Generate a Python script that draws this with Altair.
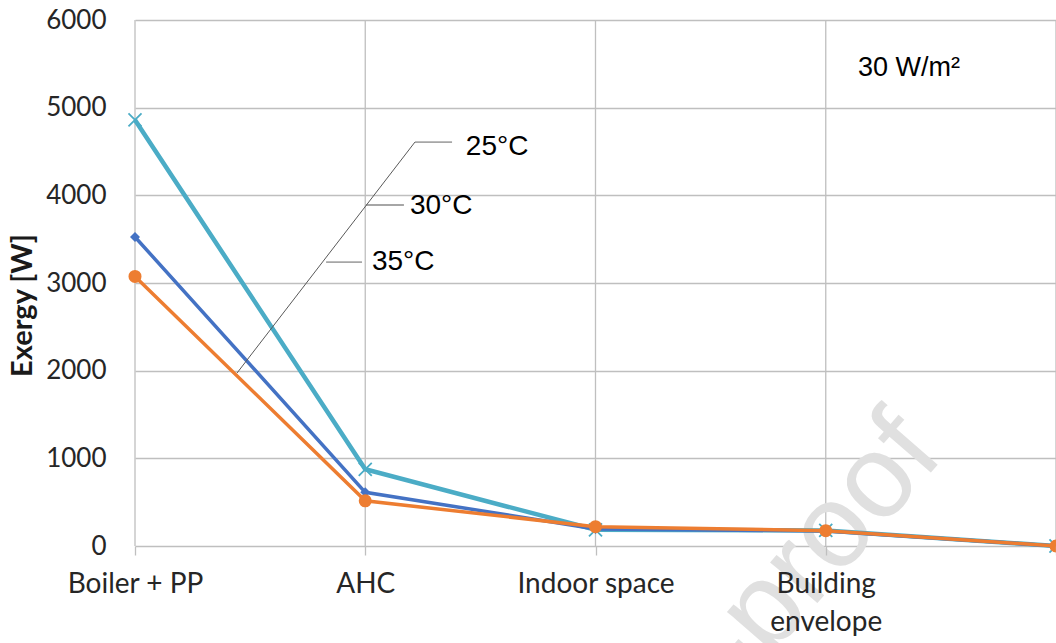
import json
import altair as alt
import pandas as pd

# Stages of the exergy flow chain (index = position on the x axis)
stages = ["Boiler + PP", "AHC", "Indoor space", "Building envelope", ""]
stage_lines = [["Boiler + PP"], ["AHC"], ["Indoor space"], ["Building", "envelope"], [""]]
stage_index = [0, 1, 2, 3, 4]

# Exergy [W] at each stage for three supply temperatures
exergy_25 = [4860, 875, 185, 178, 0]
exergy_30 = [3525, 612, 195, 172, 0]
exergy_35 = [3075, 515, 220, 175, 0]

series_names = ["25°C", "30°C", "35°C"]
series_colors = ["#4BACC6", "#4472C4", "#ED7D31"]

# Leader lines of the series labels (x in stage index units, y in W)
leader_x = [1.216, 1.216, 1.003, 0.830]
leader_x2 = [1.377, 0.443, 1.168, 0.986]
leader_y = [4608, 4608, 3890, 3239]
leader_y2 = [4608, 1973, 3890, 3239]
leader_kind = ["h", "d", "h", "h"]

label_x = [1.437, 1.194, 1.029]
label_y = [4551, 3878, 3239]

rows = []
for name, vals in zip(series_names, [exergy_25, exergy_30, exergy_35]):
    for i, v in zip(stage_index, vals):
        rows.append({"stage": i, "exergy": v, "series": name})
df = pd.DataFrame(rows)

leaders = pd.DataFrame({"x": leader_x, "x2": leader_x2, "y": leader_y,
                        "y2": leader_y2, "kind": leader_kind})
labels = pd.DataFrame({"x": label_x, "y": label_y, "text": series_names})

label_expr = json.dumps(stage_lines) + "[datum.value]"

x_scale = alt.Scale(domain=[0, 4], nice=False, zero=False)
y_scale = alt.Scale(domain=[0, 6000], nice=False)

x_enc = alt.X("stage:Q", scale=x_scale,
              axis=alt.Axis(values=stage_index, labelExpr=label_expr, title=None,
                            grid=False, zindex=1,
                            ticks=True, tickColor="#BFBFBF", tickWidth=1.3, tickSize=9,
                            domain=False, labelFont="Lato", labelFontSize=28,
                            labelColor="#262626", labelPadding=15, labelLineHeight=38,
                            labelBaseline="top", labelFlush=False, labelOverlap=False))
y_enc = alt.Y("exergy:Q", scale=y_scale,
              axis=alt.Axis(values=[0, 1000, 2000, 3000, 4000, 5000, 6000], format="d",
                            title="Exergy [W]", titleFont="Lato", titleFontSize=29,
                            titleFontWeight="bold", titleColor="#1a1a1a",
                            titleX=-113, titleY=285, titleAlign="center",
                            titleBaseline="middle", titleAngle=270,
                            grid=True, gridColor="#BFBFBF", gridWidth=1.3,
                            ticks=False, domain=False, labelFont="Lato",
                            labelFontSize=26, labelColor="#262626", labelPadding=29))

base = alt.Chart(df)

# Vertical gridlines at each stage
vgrid = alt.Chart(pd.DataFrame({"stage": stage_index})).mark_rule(
    color="#BFBFBF", strokeWidth=1.3
).encode(x=alt.X("stage:Q", scale=x_scale), y=alt.value(0), y2=alt.value(526))

# Faint watermark beneath the data
watermark = alt.Chart(pd.DataFrame({"x": [3.52], "y": [1030], "t": ["Journal Pre-proof"]})).mark_text(
    font="Liberation Sans", fontSize=118, color="#E0E0E0", align="right",
    baseline="alphabetic", angle=311
).encode(x=alt.X("x:Q", scale=x_scale), y=alt.Y("y:Q", scale=y_scale), text="t:N")

layers = [vgrid, watermark]
shapes = ["M-1,-1L1,1M-1,1L1,-1", "diamond", "circle"]
sizes = [170, 100, 170]
widths = [4.5, 3.5, 3.5]
for name, color, shape, size, w in zip(series_names, series_colors, shapes, sizes, widths):
    sub = base.transform_filter(alt.datum.series == name)
    line = sub.mark_line(color=color, strokeWidth=w).encode(x=x_enc, y=y_enc)
    if shape.startswith("M"):
        pts = sub.mark_point(shape=shape, color=color, filled=False, strokeWidth=1.8,
                             size=size, opacity=1).encode(x=x_enc, y=y_enc)
    else:
        pts = sub.mark_point(shape=shape, color=color, filled=True, size=size,
                             opacity=1).encode(x=x_enc, y=y_enc)
    layers += [line, pts]

lead_h = alt.Chart(leaders).transform_filter(alt.datum.kind == "h").mark_rule(
    color="#A6A6A6", strokeWidth=1.8).encode(x="x:Q", x2="x2:Q", y="y:Q", y2="y2:Q")
lead_d = alt.Chart(leaders).transform_filter(alt.datum.kind == "d").mark_rule(
    color="#595959", strokeWidth=1).encode(x="x:Q", x2="x2:Q", y="y:Q", y2="y2:Q")
series_text = alt.Chart(labels).mark_text(
    font="Liberation Sans", fontSize=28, color="#000000", align="left", baseline="middle"
).encode(x="x:Q", y="y:Q", text="text:N")

note = alt.Chart(pd.DataFrame({"x": [3.14], "y": [5452], "t": ["30 W/m²"]})).mark_text(
    font="Liberation Sans", fontSize=27, color="#000000", align="left", baseline="middle"
).encode(x="x:Q", y="y:Q", text="t:N")

chart = alt.layer(*layers, lead_h, lead_d, series_text, note).properties(
    width=921, height=526,
    autosize=alt.AutoSizeParams(type="none"),
    padding={"left": 135, "top": 20, "right": 0, "bottom": 97},
    background="white",
).configure_view(stroke=None)

chart.save("out.html", embed_options={"renderer": "svg", "actions": False})
